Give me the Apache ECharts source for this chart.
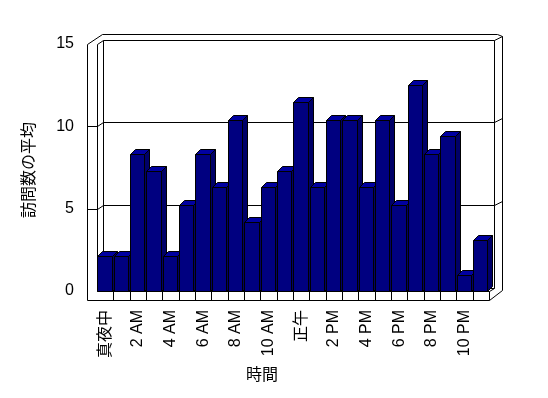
<!DOCTYPE html>
<html>
<head>
<meta charset="utf-8">
<script src="https://cdn.jsdelivr.net/npm/echarts@6/dist/echarts.min.js"></script>
<style>
  html, body { margin: 0; padding: 0; background: #fff; }
  #chart { width: 548px; height: 398px; }
</style>
</head>
<body>
<div id="chart"></div>
<script>
// 時間ごとの訪問数の平均
var hours = ['真夜中', '1 AM', '2 AM', '3 AM', '4 AM', '5 AM', '6 AM', '7 AM', '8 AM', '9 AM', '10 AM', '11 AM',
             '正午', '1 PM', '2 PM', '3 PM', '4 PM', '5 PM', '6 PM', '7 PM', '8 PM', '9 PM', '10 PM', '11 PM'];
var visits = [2.1, 2.1, 8.3, 7.3, 2.1, 5.2, 8.3, 6.3, 10.4, 4.2, 6.3, 7.3,
              11.5, 6.3, 10.4, 10.4, 6.3, 10.4, 5.2, 12.5, 8.3, 9.4, 1.0, 3.1];
var yMin = 0, yMax = 15, yStep = 5;
var gridValues = [5, 10];

var font = "'Liberation Sans', 'Noto Sans CJK JP', sans-serif";

function px(v) { return Math.round(v) + 0.5; }
function seg(x1, y1, x2, y2) {
  return {
    type: 'line',
    shape: { x1: px(x1), y1: px(y1), x2: px(x2), y2: px(y2) },
    style: { stroke: '#000', lineWidth: 1 }
  };
}

// 3D風の枠（左壁・奥の壁・床）
function renderFrame(params, api) {
  var cs = params.coordSys;
  var L = cs.x, R = cs.x + cs.width, T = cs.y, B = cs.y + cs.height;
  var band = api.size([1, 0])[0];
  var wall = 10, fl = 9;
  var c = [];
  // 左壁の前面
  c.push(seg(L - wall, T, L - wall, B + fl));
  c.push(seg(L, T, L, B));
  // 床の前面
  c.push(seg(L - wall, B + fl, R, B + fl));
  c.push(seg(L, B, R, B));
  c.push(seg(R, B, R, B + fl));
  for (var k = 1; k < hours.length; k++) {
    c.push(seg(L + k * band, B, L + k * band, B + fl));
  }
  // 上端
  c.push(seg(L - wall, T, L + 5, T - 10));
  c.push(seg(L, T, L + 6, T - 4));
  c.push(seg(L + 5, T - 10, R + 8, T - 10));
  c.push(seg(R + 8, T - 10, R + 13, T - 8));
  c.push(seg(R + 13, T - 8, R + 13, B - 1));
  c.push(seg(R + 13, B - 1, R, B + fl));
  // 奥の壁
  c.push(seg(L + 6, T - 4, L + 6, B - 3));
  c.push(seg(L + 6, T - 4, R + 5, T - 4));
  c.push(seg(R + 5, T - 4, R + 5, B - 3));
  c.push(seg(L + 6, B - 3, R + 5, B - 3));
  c.push(seg(R + 5, T - 4, R + 13, T - 8));
  c.push(seg(R, B, R + 5, B - 3));
  // 目盛線
  gridValues.forEach(function (v) {
    var y = api.coord([0, v])[1];
    c.push(seg(L - wall, y, L, y));
    c.push(seg(L, y, L + 6, y - 4));
    c.push(seg(L + 6, y - 4, R + 5, y - 4));
    c.push(seg(R + 5, y - 4, R + 13, y - 8));
  });
  return { type: 'group', children: c };
}

// 立体の棒
function renderBar(params, api) {
  var i = api.value(0), v = api.value(1);
  var top = api.coord([i, v]);
  var base = api.coord([i, 0]);
  var band = api.size([1, 0])[0];
  var x0 = px(top[0] - band * 0.47);
  var x1 = px(top[0] - band * 0.47 + band * 0.87);
  var y0 = px(top[1]), y1 = px(base[1]);
  var dx = 5, dy = -5;
  var edge = { stroke: '#000', lineWidth: 1 };
  return {
    type: 'group',
    children: [
      { type: 'polygon', shape: { points: [[x1, y0], [x1 + dx, y0 + dy], [x1 + dx, y1 + dy], [x1, y1]] },
        style: Object.assign({ fill: '#000068' }, edge) },
      { type: 'polygon', shape: { points: [[x0, y0], [x0 + dx, y0 + dy], [x1 + dx, y0 + dy], [x1, y0]] },
        style: Object.assign({ fill: '#0000a0' }, edge) },
      { type: 'rect', shape: { x: x0, y: y0, width: x1 - x0, height: y1 - y0 },
        style: Object.assign({ fill: '#000080' }, edge) }
    ]
  };
}

var myChart = echarts.init(document.getElementById('chart'));

var option = {
  animation: false,
  backgroundColor: '#fff',
  textStyle: { fontFamily: font },
  grid: { left: 97, right: 59, top: 44, bottom: 107 },
  xAxis: {
    type: 'category',
    data: hours,
    axisLine: { show: false },
    axisTick: { show: false },
    splitLine: { show: false },
    axisLabel: { interval: 1, rotate: 90, margin: 19, fontSize: 16, color: '#000', fontFamily: font }
  },
  yAxis: {
    type: 'value',
    min: yMin,
    max: yMax,
    interval: yStep,
    axisLine: { show: false },
    axisTick: { show: false },
    splitLine: { show: false },
    axisLabel: { margin: 23, fontSize: 16, color: '#000', fontFamily: font }
  },
  graphic: [
    { type: 'text', x: 30, y: 170, rotation: Math.PI / 2,
      style: { text: '訪問数の平均', fontSize: 16, fill: '#000', fontFamily: font, align: 'center', verticalAlign: 'middle' } },
    { type: 'text', x: 262, y: 376,
      style: { text: '時間', fontSize: 16, fill: '#000', fontFamily: font, align: 'center', verticalAlign: 'middle' } }
  ],
  series: [
    {
      type: 'custom',
      silent: true,
      clip: false,
      z: 1,
      renderItem: renderFrame,
      data: [[0, 0]]
    },
    {
      type: 'custom',
      silent: true,
      clip: false,
      z: 2,
      renderItem: renderBar,
      encode: { x: 0, y: 1 },
      data: visits.map(function (v, i) { return [i, v]; })
    }
  ]
};

myChart.setOption(option);
</script>
</body>
</html>
